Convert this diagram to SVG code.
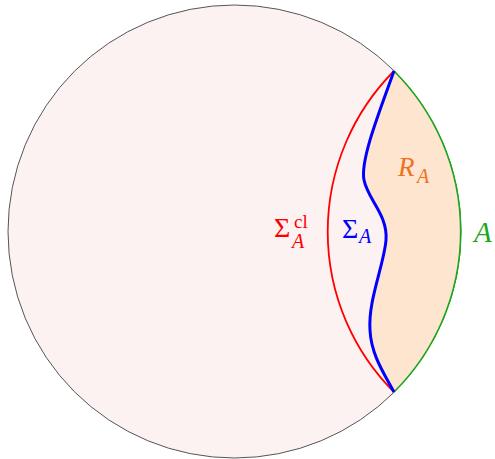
<svg xmlns="http://www.w3.org/2000/svg" width="495" height="459" viewBox="0 0 495 459">
<style>
text{font-family:"Liberation Serif","Times New Roman",serif;}
</style>
<rect width="495" height="459" fill="#ffffff"/>
<g id="bulk">
<circle cx="234.5" cy="231.5" r="226.5" fill="#fdf2f2" stroke="#555555" stroke-width="1"/>
</g>
<g id="region-RA">
<path d="M394,71 A226.5,226.5 0 0 1 394,392 C385,375 371,355 370,330 C368,300 384,265 386,240 C388,215 368,200 364,180 C360,160 380,110 394,71 Z" fill="#fde5d0" stroke="none"/>
</g>
<g id="connectors">
<path id="A" d="M394,71 A226.5,226.5 0 0 1 394,392" fill="none" stroke="#1aa81a" stroke-width="1.6"/>
<path id="sigma-cl" d="M394,71 A227,227 0 0 0 394,392" fill="none" stroke="#ff0000" stroke-width="1.8"/>
<path id="sigma" d="M394,71 C380,110 360,160 364,180 C368,200 388,215 386,240 C384,265 368,300 370,330 C371,355 385,375 394,392" fill="none" stroke="#0000ff" stroke-width="3"/>
</g>
<g id="labels">
<text x="398" y="176" font-size="27" fill="#f07020" font-style="italic">R</text>
<text x="417" y="183" font-size="20" fill="#f07020" font-style="italic">A</text>
<text x="274" y="237" font-size="28" fill="#ff0000">Σ</text>
<text x="294" y="228" font-size="19" fill="#ff0000">cl</text>
<text x="292" y="248" font-size="20" fill="#ff0000" font-style="italic">A</text>
<text x="342" y="238" font-size="28" fill="#0000ff">Σ</text>
<text x="359" y="243" font-size="20" fill="#0000ff" font-style="italic">A</text>
<text x="474" y="242" font-size="29" fill="#1aa81a" font-style="italic">A</text>
</g>
</svg>
